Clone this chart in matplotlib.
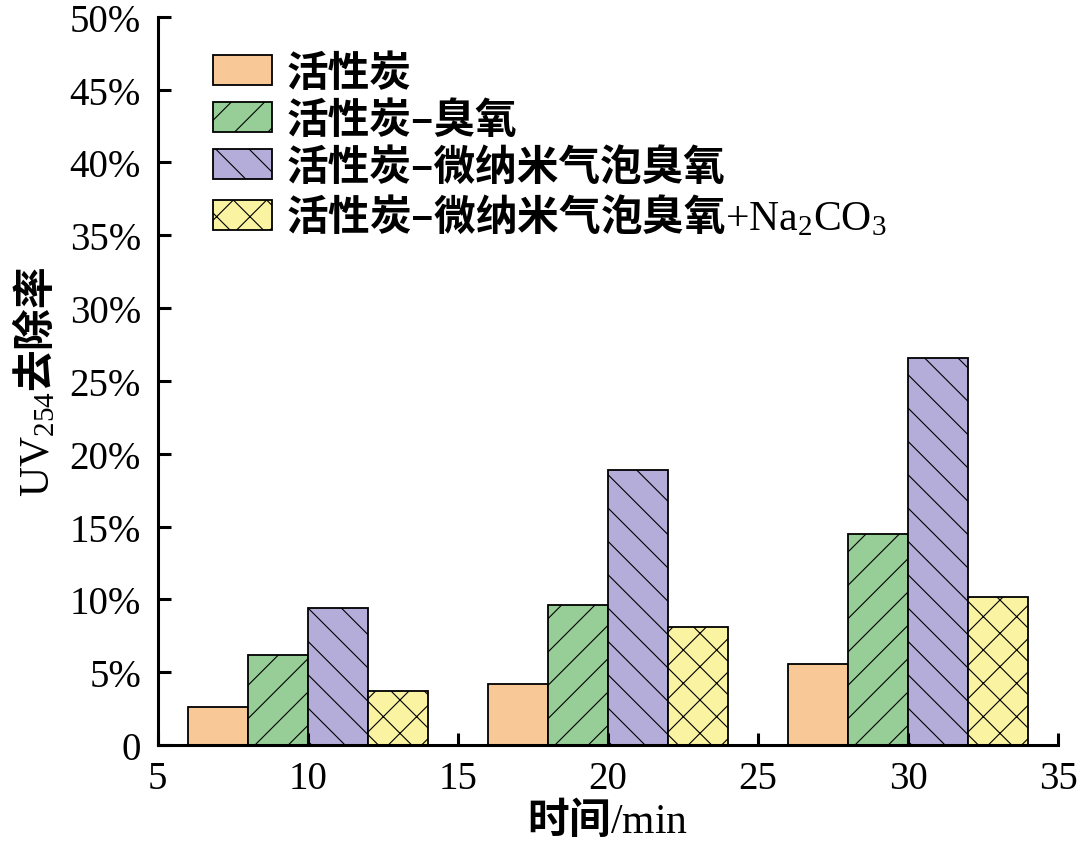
import numpy as np
import matplotlib.pyplot as plt
from matplotlib.ticker import FuncFormatter, MultipleLocator

plt.rcParams['font.family'] = ['Noto Sans CJK SC', 'DejaVu Sans']
plt.rcParams['mathtext.fontset'] = 'custom'
plt.rcParams['mathtext.rm'] = 'Liberation Serif:weight=normal'
plt.rcParams['mathtext.it'] = 'Liberation Serif:italic'
plt.rcParams['mathtext.bf'] = 'Liberation Serif:bold'
plt.rcParams['hatch.linewidth'] = 0.8

# 数据
times = [10, 20, 30]
labels = ['活性炭', '活性炭–臭氧', '活性炭–微纳米气泡臭氧',
          '活性炭–微纳米气泡臭氧$\\mathrm{+Na_2CO_3}$']
ac = [2.6, 4.2, 5.6]
ac_o3 = [6.2, 9.6, 14.5]
ac_mb = [9.4, 18.9, 26.6]
ac_mb_na = [3.7, 8.1, 10.2]
series = [ac, ac_o3, ac_mb, ac_mb_na]

colors = ['#F8C996', '#97CE97', '#B5ADD9', '#FAF3A1']
hatches = ['', '/', '\\', 'x']
offsets = [-3, -1, 1, 3]
width = 2

fig = plt.figure(figsize=(10.8, 8.45), dpi=100)
ax = fig.add_axes([0.146, 0.117, 0.834, 0.862])

x = np.array(times)
for vals, c, h, off, lab in zip(series, colors, hatches, offsets, labels):
    ax.bar(x + off, vals, width=width, color=c, edgecolor='black',
           linewidth=1.3, hatch=h, label=lab)

ax.set_xlim(5, 35)
ax.set_ylim(0, 50)
ax.xaxis.set_major_locator(MultipleLocator(5))
ax.yaxis.set_major_locator(MultipleLocator(5))
ax.yaxis.set_major_formatter(FuncFormatter(lambda v, p: '0' if v == 0 else f'{v:.0f}%'))

for s in ['top', 'right']:
    ax.spines[s].set_visible(False)
for s in ['left', 'bottom']:
    ax.spines[s].set_linewidth(2.2)
ax.tick_params(direction='in', length=9, width=2.2)
ax.tick_params(axis='x', pad=11)
ax.tick_params(axis='y', pad=12)
for t in ax.get_xticklabels() + ax.get_yticklabels():
    t.set_fontfamily('Liberation Serif')
    t.set_fontsize(28)

ax.set_xlabel('时间$\\mathrm{/min}$', fontsize=30, fontweight='bold', labelpad=0)
ax.set_ylabel('$\\mathrm{UV_{254}}$去除率', fontsize=30, fontweight='bold', labelpad=8)

ax.legend(loc='upper left', bbox_to_anchor=(0.061, 0.952), frameon=False,
          prop={'size': 30, 'weight': 'bold'}, handlelength=1.42,
          handleheight=0.72, labelspacing=0.12, handletextpad=0.35,
          borderpad=0, borderaxespad=0)

fig.savefig('out.png', dpi=100)
